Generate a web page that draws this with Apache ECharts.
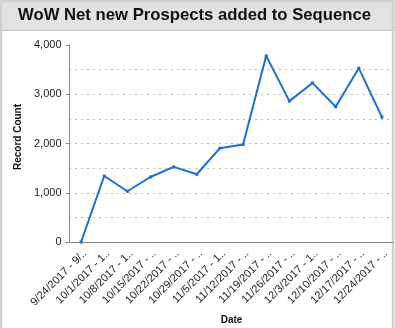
<!DOCTYPE html>
<html><head><meta charset="utf-8">
<script src="https://cdn.jsdelivr.net/npm/echarts@6/dist/echarts.min.js"></script>
<style>html,body{margin:0;padding:0;background:#fff}#c{width:395px;height:328px}</style>
</head><body><div id="c"></div>
<script>
const titleText = 'WoW Net new Prospects added to Sequence';
const categories = ['9/24/2017 - 9/..','10/1/2017 - 1..','10/8/2017 - 1..','10/15/2017 - ..','10/22/2017 - ..','10/29/2017 - ..','11/5/2017 - 1..','11/12/2017 - ..','11/19/2017 - ..','11/26/2017 - ..','12/3/2017 - 1..','12/10/2017 - ..','12/17/2017 - ..','12/24/2017 - ..'];
const recordCount = [0,1340,1030,1320,1525,1375,1905,1980,3780,2860,3230,2745,3530,2535];
const yTicks = [0,1000,2000,3000,4000];

const chart = echarts.init(document.getElementById('c'));
const font = 'Liberation Sans, Arial, Helvetica, sans-serif';
chart.setOption({
  animation:false,
  textStyle:{fontFamily:font},
  graphic:[
    {type:'rect', shape:{x:0,y:0,width:395,height:31}, style:{fill:'#e2e2e2'}, z:-1},
    {type:'line', shape:{x1:0,y1:30.5,x2:395,y2:30.5}, style:{stroke:'#c4c4c4',lineWidth:1}},
    {type:'rect', shape:{x:1,y:1,width:392,height:340}, style:{fill:'none',stroke:'#cfcfcf',lineWidth:2.5}},
    {type:'text', left:18, top:7, style:{text:titleText, font:'bold 16.7px '+font, fill:'#111'}}
  ],
  grid:{left:69.5,right:1.5,top:45,bottom:86,containLabel:false,outerBoundsMode:'none'},
  xAxis:{
    type:'category', data:categories, boundaryGap:true,
    name:'Date', nameLocation:'middle', nameGap:71,
    nameTextStyle:{fontWeight:'bold',fontSize:10,color:'#111'},
    axisLine:{lineStyle:{color:'#888'}},
    axisTick:{alignWithLabel:true,length:4,lineStyle:{color:'#888'}},
    axisLabel:{rotate:45,interval:0,fontSize:11,color:'#222',margin:6,verticalAlign:'top'}
  },
  yAxis:{
    type:'value', min:0, max:4000, interval:1000,
    name:'Record Count', nameLocation:'middle', nameGap:46,
    nameTextStyle:{fontWeight:'bold',fontSize:10,color:'#111',padding:[0,0,0,13]},
    axisLine:{show:true,lineStyle:{color:'#888'}},
    axisTick:{show:true,length:4,lineStyle:{color:'#888'}},
    axisLabel:{fontSize:11,color:'#222',margin:8,formatter:v=>yTicks.includes(v)?v.toLocaleString('en-US'):''},
    splitLine:{show:true,lineStyle:{type:[1,5],color:['#777','#777','#777','#777','rgba(0,0,0,0)']}},
    minorTick:{show:false,splitNumber:2},
    minorSplitLine:{show:true,lineStyle:{type:[1,5],color:'#777'}}
  },
  series:[{
    type:'line', data:recordCount,
    lineStyle:{color:'#1b6fd0',width:2},
    itemStyle:{color:'#1b6fd0'},
    symbol:'rect', symbolSize:3, showSymbol:true
  }]
});
</script></body></html>
